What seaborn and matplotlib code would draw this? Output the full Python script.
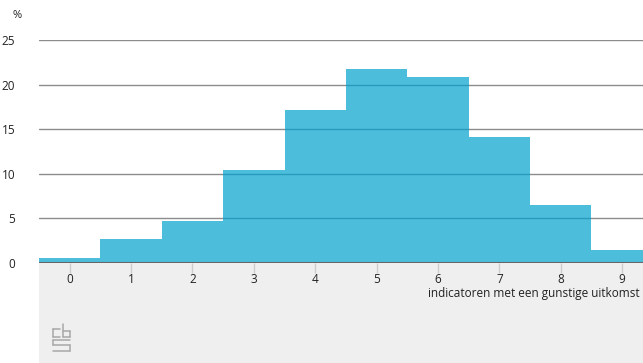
import matplotlib
matplotlib.use('Agg')
import matplotlib.pyplot as plt
from matplotlib.patches import Rectangle
import seaborn as sns

# aantal indicatoren met een gunstige uitkomst (%)
categories = [0, 1, 2, 3, 4, 5, 6, 7, 8, 9]
percentages = [0.55, 2.7, 4.7, 10.4, 17.15, 21.75, 20.85, 14.1, 6.5, 1.45]
y_ticks = [0, 5, 10, 15, 20, 25]
x_title = 'indicatoren met een gunstige uitkomst'

sns.set_style('white')
plt.rcParams['font.family'] = ['Open Sans', 'DejaVu Sans']

fig = plt.figure(figsize=(6.43, 3.63), dpi=100)
W, H = 643, 363

# grijs vlak onder de x-as
fig.patches.append(Rectangle((39 / W, 0), 1 - 39 / W, (363 - 263) / H,
                             transform=fig.transFigure, facecolor='#efefef',
                             edgecolor='none', zorder=0))

ax = fig.add_axes([39 / W, (363 - 263) / H, 1 - 39 / W, (263 - 40) / H])
ax.set_zorder(2)
ax.patch.set_alpha(0)

sns.barplot(x=categories, y=percentages, width=1.0, color='#00a1cd',
            saturation=1, alpha=0.7, linewidth=0, ax=ax, zorder=2)

ax.set_xlim(-0.5, 9.34)
ax.set_ylim(0, 25)
ax.set_yticks(y_ticks)
for v in y_ticks[1:]:
    ax.axhline(v, color='#8c8c8c', lw=1.0, zorder=1)
ax.axhline(0, color='#666666', lw=2.2, zorder=3)

for s in ax.spines.values():
    s.set_visible(False)

ax.tick_params(axis='y', length=0, pad=17, labelsize=8.5, labelcolor='#222222')
ax.tick_params(axis='x', bottom=True, length=7, width=1, color='#cccccc', pad=0,
               labelsize=8.5, labelcolor='#222222')
for lbl in ax.get_yticklabels():
    lbl.set_horizontalalignment('right')

ax.set_xlabel(x_title, fontsize=8.5, color='#222222')
ax.xaxis.set_label_coords(1 - 3 / (W - 39), -30 / (263 - 40))
ax.xaxis.label.set_horizontalalignment('right')
ax.xaxis.label.set_verticalalignment('center')
ax.set_ylabel('')

fig.text(12 / W, 1 - 15 / H, '%', fontsize=8, color='#222222', va='center')

# cbs-logo (eenvoudige benadering)
lc = '#a8a8a8'
def seg(x0, y0, x1, y1):
    fig.add_artist(plt.Line2D([x0 / W, x1 / W], [1 - y0 / H, 1 - y1 / H],
                              color=lc, lw=1.1, transform=fig.transFigure))
# c
seg(60, 329, 53, 329); seg(53, 329, 53, 337); seg(53, 337, 60, 337)
# b
seg(63, 324, 63, 337); seg(63, 337, 70, 337); seg(70, 337, 70, 331); seg(70, 331, 63, 331)
# s
seg(70, 340, 53, 340); seg(53, 340, 53, 345); seg(53, 345, 70, 345)
seg(70, 345, 70, 351); seg(70, 351, 53, 351)

fig.savefig('out.png', dpi=100)
